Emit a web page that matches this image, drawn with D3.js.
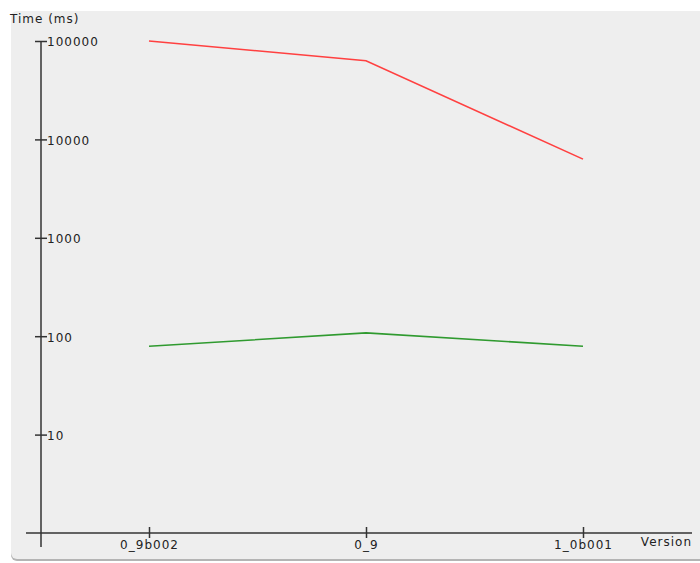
<!DOCTYPE html>
<html>
<head>
<meta charset="utf-8">
<script src="https://d3js.org/d3.v7.min.js"></script>
<style>
  body { margin: 0; background: #ffffff; }
  text { font-family: "DejaVu Sans", sans-serif; font-size: 12px; letter-spacing: 1px; fill: #222; }
</style>
</head>
<body>
<div id="chart"></div>
<script>
    // data
    const versions = ["0_9b002", "0_9", "1_0b001"];
    const redTimes = [100000, 63000, 6300];
    const greenTimes = [79, 108, 79];
    const yTicks = [10, 100, 1000, 10000, 100000];

    const W = 700, H = 563;

    const svg = d3.select("#chart")
        .append("svg")
        .attr("width", W)
        .attr("height", H);

    // panel with a little shadow under it
    svg.append("rect")
        .attr("x", 11).attr("y", 13)
        .attr("width", 700).attr("height", 548)
        .attr("rx", 6)
        .attr("fill", "#b4b4b4");
    svg.append("rect")
        .attr("x", 11).attr("y", 11)
        .attr("width", 700).attr("height", 548)
        .attr("rx", 6)
        .attr("fill", "#eeeeee");

    // scales
    const x = d3.scalePoint()
        .domain(versions)
        .range([149, 583]);

    const y = d3.scaleLog()
        .domain([1, 100000])
        .range([533, 41]);

    // y axis
    const yAxis = svg.append("g")
        .attr("transform", "translate(41,0)")
        .call(d3.axisRight(y).tickValues(yTicks).tickFormat(d3.format("d")).tickSize(6).tickPadding(0));
    yAxis.select(".domain").remove();
    yAxis.selectAll(".tick line").attr("x1", -6).attr("stroke", "#333").attr("stroke-width", 1.5);
    yAxis.selectAll(".tick text")
        .attr("x", 6)
        .attr("dy", "0.4em")
        .style("font-family", "DejaVu Sans, sans-serif")
        .style("font-size", "12px")
        .attr("fill", "#222");
    yAxis.append("line")
        .attr("x1", 0).attr("x2", 0)
        .attr("y1", 41).attr("y2", 547)
        .attr("stroke", "#333").attr("stroke-width", 1.5);

    // x axis
    const xAxis = svg.append("g")
        .attr("transform", "translate(0,533)")
        .call(d3.axisBottom(x).tickSize(5).tickPadding(0));
    xAxis.select(".domain").remove();
    xAxis.selectAll(".tick line").attr("y1", -6).attr("stroke", "#333").attr("stroke-width", 1.5);
    xAxis.selectAll(".tick text")
        .attr("y", 16)
        .attr("dy", 0)
        .style("font-family", "DejaVu Sans, sans-serif")
        .style("font-size", "12px")
        .attr("fill", "#222");
    xAxis.append("line")
        .attr("x1", 26).attr("x2", 692)
        .attr("y1", 0).attr("y2", 0)
        .attr("stroke", "#333").attr("stroke-width", 1.5);

    // axis titles
    svg.append("text")
        .attr("x", 10).attr("y", 23)
        .text("Time (ms)");
    svg.append("text")
        .attr("x", 692).attr("y", 546)
        .attr("text-anchor", "end")
        .text("Version");

    // lines
    const line = d3.line()
        .x(d => x(d.v))
        .y(d => y(d.t));

    svg.append("path")
        .datum(versions.map((v, i) => ({ v: v, t: redTimes[i] })))
        .attr("d", line)
        .attr("fill", "none")
        .attr("stroke", "#ff4040")
        .attr("stroke-width", 1.6);

    svg.append("path")
        .datum(versions.map((v, i) => ({ v: v, t: greenTimes[i] })))
        .attr("d", line)
        .attr("fill", "none")
        .attr("stroke", "#2f9a2f")
        .attr("stroke-width", 1.6);
</script>
</body>
</html>
